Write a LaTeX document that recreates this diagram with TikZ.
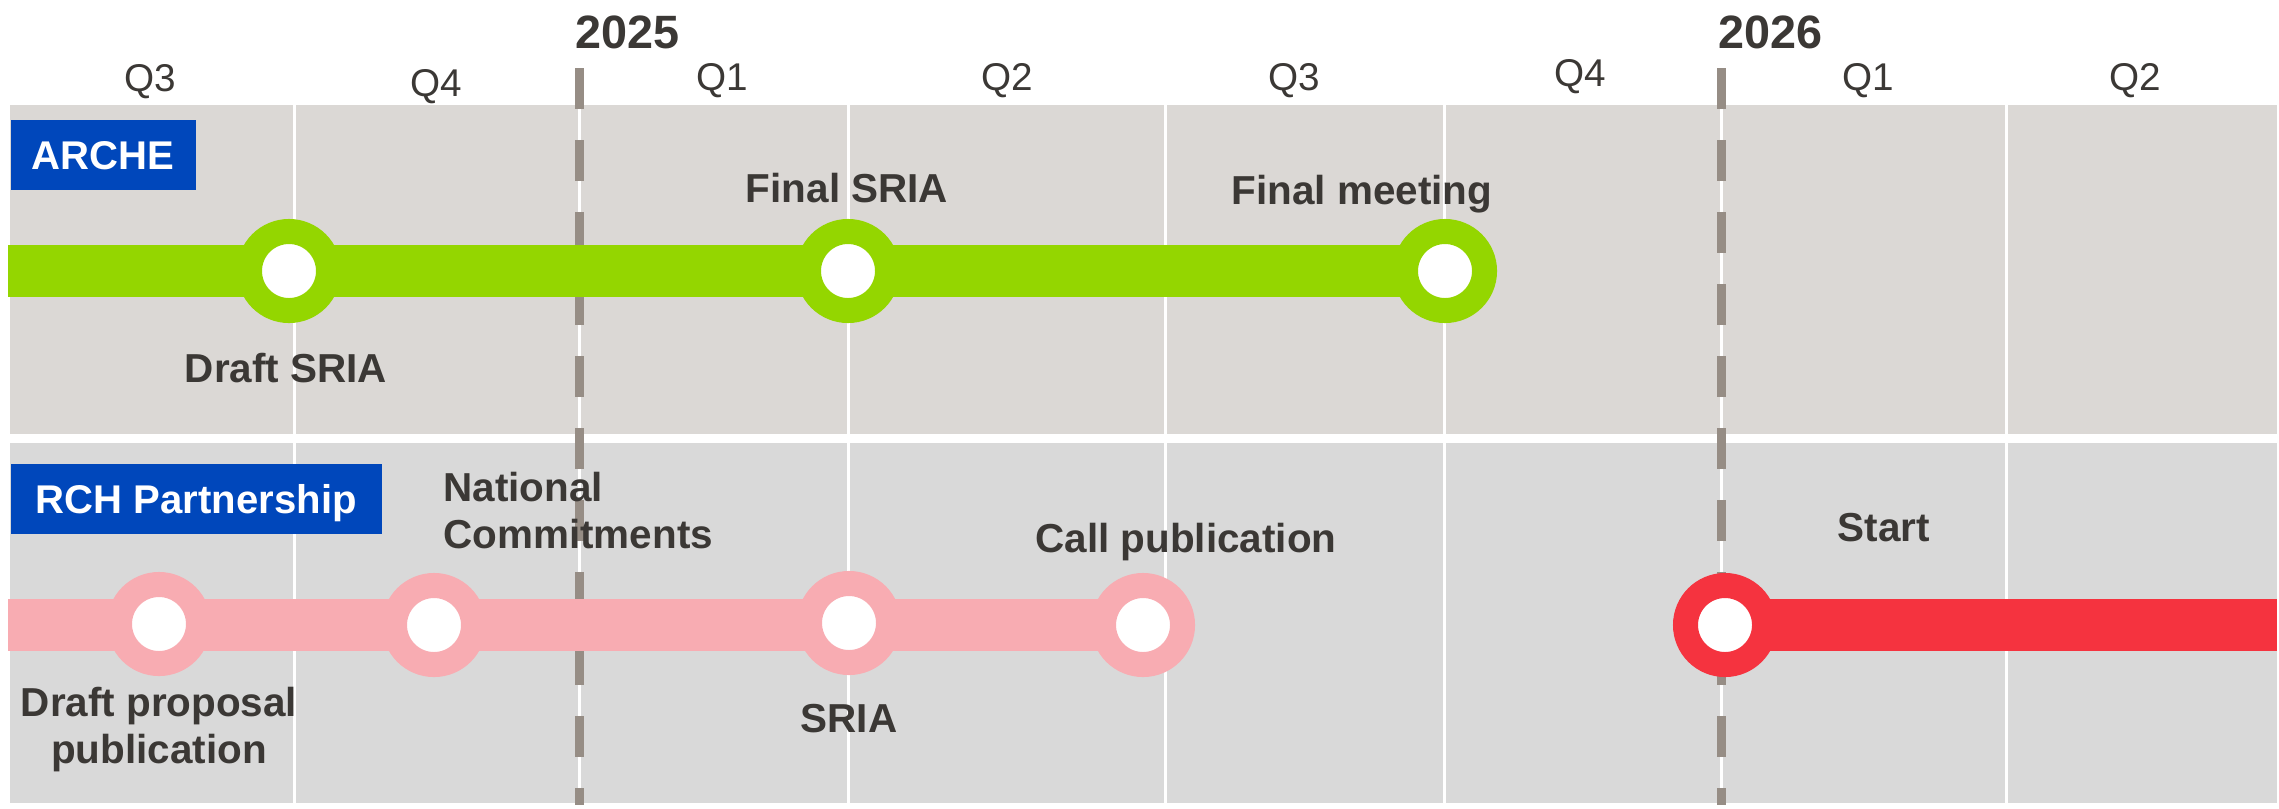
\documentclass[tikz,border=0pt]{standalone}
\usepackage{fontspec}
\setmainfont{Liberation Sans}
\usepackage{tikz}
\usepackage{xcolor}
\usetikzlibrary{positioning}
\definecolor{bandtop}{HTML}{DBD8D5}
\definecolor{bandlow}{HTML}{D9D9D9}
\definecolor{archegreen}{HTML}{94D600}
\definecolor{rchpink}{HTML}{F8ACB2}
\definecolor{rchred}{HTML}{F5333F}
\definecolor{tagblue}{HTML}{0047BB}
\definecolor{yeargray}{HTML}{968D85}
\definecolor{textdark}{HTML}{3B3835}

\begin{document}
\begin{tikzpicture}[x=0.01cm,y=-0.01cm,
        quarter/.style={font=\fontsize{11}{13}\selectfont,text=textdark,anchor=base},
        year/.style={font=\fontsize{13.3}{15}\selectfont\bfseries,text=textdark,anchor=base west},
        milestone/.style={font=\fontsize{11.5}{13.1}\selectfont\bfseries,text=textdark,anchor=base,align=center},
        tag/.style={fill=tagblue,text=white,font=\fontsize{11.4}{13}\selectfont\bfseries,anchor=north west,
            minimum height=0.70cm,inner sep=0pt,text height=8.2pt,text depth=0pt},
        msdot/.style={circle,draw=#1,fill=white,line width=0.25cm,minimum size=0.79cm,inner sep=0pt},
        track/.style={draw=#1,line width=0.52cm}]
        \useasboundingbox (0,0) rectangle (2279,808);
        % bands
        \fill[bandtop] (10,105) rectangle (2277,434);
        \fill[bandlow] (10,443) rectangle (2277,803);
        \foreach \qx in {294,579,848,1165,1444,1721,2006}
            \draw[white,line width=0.03cm] (\qx,105) -- (\qx,803);
        \draw[yeargray,line width=0.09cm,dash pattern=on 0.41cm off 0.31cm] (579,68) -- (579,805);
        \draw[yeargray,line width=0.09cm,dash pattern=on 0.41cm off 0.31cm] (1721,68) -- (1721,805);
        % header
        \node[year] (y2025) at (563,48) {2025};
        \node[year] (y2026) at (1706,48) {2026};
        \foreach \qx/\qy/\qt [count=\i] in {150/91/Q3,436/96/Q4,722/90/Q1,1007/90/Q2,1294/90/Q3,1580/86/Q4,1868/90/Q1,2135/90/Q2}
            \node[quarter] (q\i) at (\qx,\qy) {\qt};
        % ARCHE
        \node[tag,minimum width=1.85cm] (arche) at (10,119) {ARCHE};
        \coordinate (archestart) at (8,271);
        \coordinate (draftsria) at (289,271);
        \coordinate (finalsria) at (848,271);
        \coordinate (finalmeeting) at (1445,271);
        \draw[track=archegreen] (archestart) -- (finalmeeting);
        \node[msdot=archegreen] (draftsriadot) at (draftsria) {};
        \node[msdot=archegreen] (finalsriadot) at (finalsria) {};
        \node[msdot=archegreen] (finalmeetingdot) at (finalmeeting) {};
        \node[milestone] (draftsrialabel) at (286,382) {Draft SRIA};
        \node[milestone] (finalsrialabel) at (847,202) {Final SRIA};
        \node[milestone] (finalmeetinglabel) at (1362,204) {Final meeting};
        % RCH Partnership
        \node[tag,minimum width=3.71cm] (rch) at (10,463) {RCH Partnership};
        \coordinate (rchstart) at (8,625);
        \coordinate (draftprop) at (159,624);
        \coordinate (national) at (434,625);
        \coordinate (sria) at (849,623);
        \coordinate (callpub) at (1143,625);
        \coordinate (start) at (1725,625);
        \coordinate (rchend) at (2277,625);
        \draw[track=rchpink] (rchstart) -- (callpub);
        \draw[track=rchred] (start) -- (rchend);
        \node[msdot=rchpink] (draftpropdot) at (draftprop) {};
        \node[msdot=rchpink] (nationaldot) at (national) {};
        \node[msdot=rchpink] (sriadot) at (sria) {};
        \node[msdot=rchpink] (callpubdot) at (callpub) {};
        \node[msdot=rchred] (startdot) at (start) {};
        \node[milestone,align=left,anchor=base west] (nationallabel) at (431,548) {National\\Commitments};
        \node[milestone] (draftproplabel) at (159,763) {Draft proposal\\publication};
        \node[milestone] (srialabel) at (849,732) {SRIA};
        \node[milestone] (callpublabel) at (1186,552) {Call publication};
        \node[milestone] (startlabel) at (1884,541) {Start};
    \end{tikzpicture}
\end{document}
